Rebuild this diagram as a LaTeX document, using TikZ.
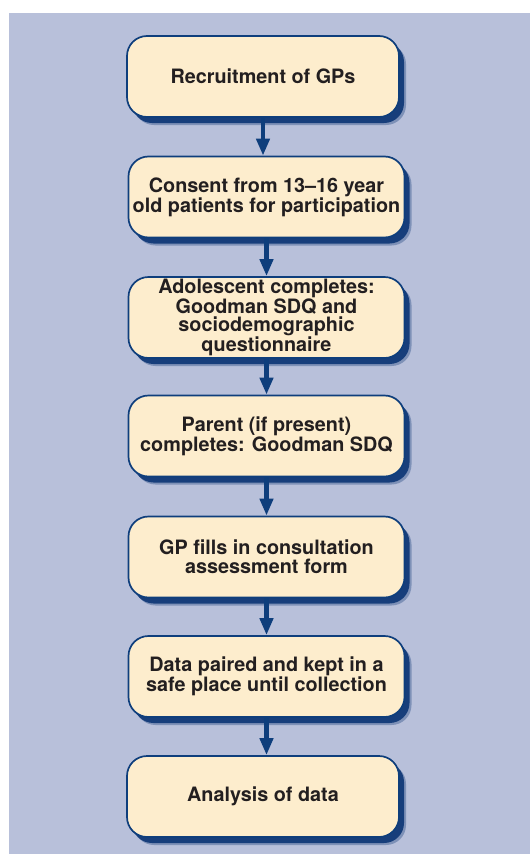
\documentclass[tikz,border=0pt]{standalone}
\usepackage{fontspec}
\setmainfont{TeX Gyre Heros}
\usetikzlibrary{arrows.meta,shadows}
\definecolor{panel}{HTML}{B8C0DA}
\definecolor{cream}{HTML}{FDEDCD}
\definecolor{boxblue}{HTML}{0E3E7C}
\definecolor{shadowblue}{HTML}{123A78}
\definecolor{txt}{HTML}{231F20}
\tikzset{
  stepbox/.style={draw=boxblue, line width=1.7pt, fill=cream, rounded corners=20pt,
    minimum width=276pt, minimum height=81pt, inner sep=0pt, align=center,
    text=txt, font=\fontsize{19.8pt}{18.6pt}\selectfont\bfseries,
    drop shadow={shadow xshift=7pt, shadow yshift=-8pt, fill=shadowblue, opacity=0.35},
    drop shadow={shadow xshift=5pt, shadow yshift=-6pt, fill=shadowblue, opacity=0.95}},
  endbox/.style={stepbox, minimum width=272pt},
  flow/.style={draw=boxblue, line width=4.5pt, -{Triangle[width=13pt,length=17pt]}}
}
\begin{document}
\begin{tikzpicture}[x=1pt,y=1pt]
\useasboundingbox (0,0) rectangle (530,-854);
\fill[white] (0,0) rectangle (530,-854);
\fill[panel] (9,-13) rectangle (530,-854);
\node[endbox] (b1) at (263,-76.5) {Recruitment of GPs};
\node[stepbox] (b2) at (266.5,-197) {Consent from 13–16 year\\old patients for participation};
\node[stepbox] (b3) at (266.5,-317.5) {Adolescent completes:\\Goodman SDQ and\\sociodemographic\\questionnaire};
\node[stepbox] (b4) at (266.5,-436) {Parent (if present)\\completes: Goodman SDQ};
\node[stepbox] (b5) at (266.5,-557) {GP fills in consultation\\assessment form};
\node[stepbox] (b6) at (266.5,-676.5) {Data paired and kept in a\\safe place until collection};
\node[endbox] (b7) at (263,-796.5) {Analysis of data};
\foreach \a/\b in {b1/b2,b2/b3,b3/b4,b4/b5,b5/b6,b6/b7}
  \draw[flow] (\a.south) -- (\a.south |- \b.north);
\end{tikzpicture}
\end{document}
